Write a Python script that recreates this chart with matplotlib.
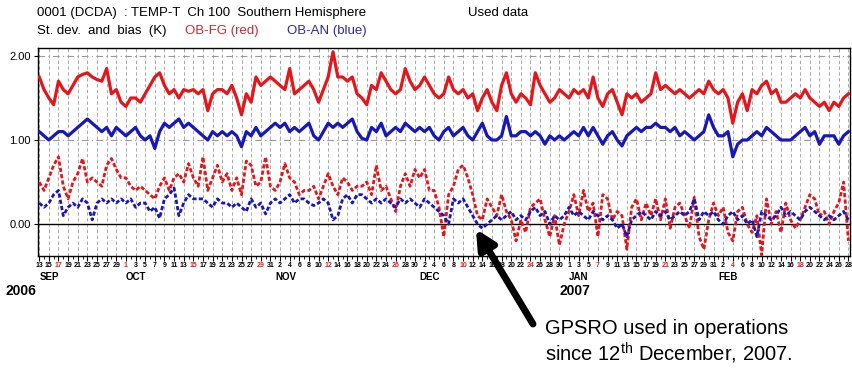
import pandas as pd
import matplotlib
matplotlib.use("Agg")
import matplotlib.pyplot as plt
from matplotlib.transforms import blended_transform_factory

plt.rcParams['font.family'] = ['Liberation Sans', 'DejaVu Sans']
plt.rcParams['mathtext.fontset'] = 'custom'
plt.rcParams['mathtext.rm'] = 'Liberation Sans'

# one value per day, 13 Sep 2006 .. 28 Feb 2007
dates = pd.date_range("2006-09-13", "2007-02-28", freq="D")

# st. dev. OB-FG (red, solid)
stdev_fg = [
    1.75, 1.6, 1.5, 1.42, 1.7, 1.6, 1.55, 1.65, 1.75, 1.78, 1.8, 1.75, 1.72, 1.7, 1.85, 1.55, 1.6, 1.45,
    1.4, 1.5, 1.5, 1.45, 1.55, 1.65, 1.75, 1.8, 1.65, 1.55, 1.6, 1.5, 1.6, 1.58, 1.6, 1.55,
    1.6, 1.35, 1.55, 1.6, 1.6, 1.55, 1.65, 1.5, 1.3, 1.55, 1.45, 1.75, 1.65, 1.7, 1.75,
    1.7, 1.65, 1.6, 1.85, 1.55, 1.6, 1.65, 1.7, 1.6, 1.45, 1.6, 1.75, 2.05, 1.75, 1.75, 1.7, 1.75, 1.55,
    1.5, 1.42, 1.65, 1.6, 1.8, 1.7, 1.6, 1.55, 1.6, 1.85, 1.7, 1.6,
    1.65, 1.75, 1.65, 1.55, 1.5, 1.55, 1.75, 1.6, 1.55, 1.6, 1.5, 1.55, 1.35, 1.5, 1.6, 1.45, 1.35,
    1.65, 1.8, 1.55, 1.45, 1.55, 1.5, 1.42, 1.8, 1.65, 1.55, 1.45, 1.5, 1.6, 1.55,
    1.5, 1.6, 1.55, 1.6, 1.5, 1.75, 1.5, 1.4, 1.55, 1.6, 1.45, 1.3, 1.55, 1.5, 1.55, 1.45,
    1.5, 1.55, 1.8, 1.6, 1.65, 1.6, 1.55, 1.6, 1.55, 1.5, 1.55, 1.6, 1.55, 1.7, 1.6,
    1.55, 1.6, 1.5, 1.2, 1.45, 1.55, 1.35, 1.6, 1.55, 1.65, 1.7, 1.55, 1.6, 1.45,
    1.45, 1.5, 1.55, 1.5, 1.6, 1.5, 1.45, 1.4, 1.45, 1.35, 1.45, 1.4, 1.5, 1.55,
]

# st. dev. OB-AN (blue, solid)
stdev_an = [
    1.1, 1.05, 1.0, 1.05, 1.1, 1.1, 1.05, 1.1, 1.15, 1.2, 1.25, 1.2, 1.15, 1.1, 1.15, 1.05, 1.15, 1.1,
    1.05, 1.1, 1.15, 1.05, 1.0, 1.05, 0.9, 1.1, 1.2, 1.15, 1.2, 1.25, 1.15, 1.2, 1.15, 1.1,
    1.05, 1.0, 1.1, 1.05, 1.1, 1.05, 1.1, 1.05, 0.92, 1.1, 1.05, 1.15, 1.05, 1.1, 1.15,
    1.2, 1.15, 1.2, 1.1, 1.15, 1.1, 1.15, 1.2, 1.05, 1.0, 1.1, 1.2, 1.15, 1.2, 1.15, 1.2, 1.25, 1.1,
    1.02, 1.0, 1.15, 1.1, 1.2, 1.05, 1.1, 1.15, 1.1, 1.2, 1.15, 1.1,
    1.15, 1.1, 1.15, 1.05, 1.0, 1.1, 1.15, 1.05, 1.1, 1.15, 1.05, 1.0, 1.1, 1.2, 1.05, 1.0, 1.0,
    1.05, 1.28, 1.05, 1.05, 1.1, 1.1, 1.05, 1.1, 1.05, 0.95, 1.05, 1.0, 1.05, 1.0,
    1.05, 1.1, 1.05, 1.15, 1.05, 1.15, 1.05, 0.95, 1.05, 1.1, 1.0, 0.93, 1.05, 1.1, 1.15, 1.1,
    1.15, 1.15, 1.2, 1.15, 1.15, 1.1, 1.15, 1.05, 1.1, 1.05, 1.0, 1.05, 1.1, 1.3, 1.15,
    1.05, 1.05, 1.1, 0.8, 0.95, 1.0, 1.0, 1.05, 1.1, 1.05, 1.15, 1.1, 1.05, 1.0,
    1.0, 1.0, 1.05, 1.1, 1.15, 1.05, 1.1, 0.95, 1.05, 1.05, 1.05, 0.95, 1.05, 1.1,
]

# bias OB-FG (red, dashed)
bias_fg = [
    0.5, 0.4, 0.55, 0.7, 0.8, 0.45, 0.3, 0.5, 0.6, 0.78, 0.5, 0.55, 0.5, 0.45, 0.7, 0.78, 0.65, 0.55,
    0.55, 0.45, 0.4, 0.45, 0.4, 0.35, 0.3, 0.45, 0.55, 0.4, 0.55, 0.6, 0.5, 0.72, 0.55, 0.45,
    0.8, 0.4, 0.55, 0.7, 0.5, 0.6, 0.4, 0.55, 0.35, 0.75, 0.7, 0.45, 0.5, 0.8, 0.45,
    0.4, 0.5, 0.72, 0.55, 0.5, 0.35, 0.4, 0.4, 0.45, 0.3, 0.45, 0.6, 0.45, 0.35, 0.55, 0.5, 0.4, 0.45,
    0.45, 0.5, 0.35, 0.7, 0.4, 0.45, 0.3, 0.15, 0.45, 0.6, 0.45, 0.65,
    0.55, 0.65, 0.4, 0.4, 0.2, -0.15, 0.35, 0.45, 0.65, 0.7, 0.55, 0.35, 0.1, 0.05, 0.3, 0.2, 0.1,
    0.35, 0.15, 0.05, -0.2, 0.05, -0.1, 0.2, 0.25, 0.3, 0.05, -0.15, 0.1, -0.25, 0.0,
    0.15, 0.35, 0.1, 0.4, 0.15, 0.25, -0.15, 0.35, 0.3, 0.05, 0.15, 0.1, -0.3, 0.2, 0.3, 0.05,
    0.25, 0.1, 0.3, 0.05, 0.3, -0.05, 0.2, 0.25, 0.1, -0.05, 0.32, -0.15, -0.3, 0.05, 0.25,
    0.1, 0.2, -0.1, -0.2, 0.15, 0.2, 0.0, -0.1, 0.1, -0.37, 0.3, 0.0, 0.15, -0.1,
    0.25, 0.05, -0.05, 0.05, 0.2, 0.35, 0.3, 0.1, 0.15, 0.0, 0.15, 0.25, 0.5, -0.2,
]

# bias OB-AN (blue, dashed)
bias_an = [
    0.25, 0.2, 0.25, 0.35, 0.4, 0.1, 0.2, 0.25, 0.2, 0.3, 0.25, 0.05, 0.25, 0.3, 0.25, 0.3, 0.25, 0.3,
    0.25, 0.3, 0.2, 0.25, 0.25, 0.15, 0.2, 0.07, 0.3, 0.35, 0.43, 0.1, 0.25, 0.35, 0.3, 0.3,
    0.3, 0.25, 0.2, 0.3, 0.25, 0.25, 0.2, 0.25, 0.2, 0.15, 0.3, 0.2, 0.25, 0.12, 0.25,
    0.3, 0.25, 0.3, 0.35, 0.25, 0.3, 0.3, 0.25, 0.22, 0.25, 0.3, 0.25, 0.05, 0.1, 0.3, 0.35, 0.25, 0.35,
    0.35, 0.3, 0.25, 0.3, 0.25, 0.3, 0.25, 0.2, 0.3, 0.25, 0.3, 0.25,
    0.2, 0.3, 0.25, 0.2, 0.15, 0.1, 0.0, 0.3, 0.25, 0.3, 0.2, 0.1, 0.0, -0.05, 0.0, 0.05, 0.1,
    0.05, 0.1, 0.15, 0.05, 0.1, 0.05, 0.15, 0.2, 0.1, 0.15, 0.0, 0.1, 0.05, 0.1,
    0.2, 0.1, 0.15, 0.1, 0.05, 0.15, 0.1, 0.05, 0.1, 0.05, -0.05, 0.0, -0.15, 0.05, 0.1, 0.15,
    0.1, 0.05, 0.15, 0.1, 0.15, 0.05, 0.1, 0.15, 0.1, 0.15, 0.3, 0.05, 0.15, 0.1, 0.15,
    0.05, 0.0, 0.1, 0.15, 0.05, 0.1, 0.0, 0.05, -0.15, 0.15, 0.1, 0.05, 0.1, 0.2,
    0.1, 0.15, 0.1, 0.05, 0.15, 0.2, 0.15, 0.1, 0.05, 0.1, 0.05, 0.1, 0.15, 0.05,
]

month_labels = ["SEP", "OCT", "NOV", "DEC", "JAN", "FEB"]
month_starts = ["2006-09-13", "2006-10-01", "2006-11-01", "2006-12-01", "2007-01-01", "2007-02-01"]
year_labels = ["2006", "2007"]
year_pos = ["2006-09-06", "2006-12-30"]
red_tick_ref = pd.Timestamp("2006-09-17")  # every second Sunday in red
gpsro_date = pd.Timestamp("2006-12-12 16:00")

RED = "#e4161c"
BLUE = "#1818b8"

fig = plt.figure(figsize=(8.53, 3.70), dpi=100, facecolor="white")
ax = fig.add_axes([38 / 853, 1 - 256 / 370, 812 / 853, 208 / 370])

ax.plot(dates, stdev_fg, color=RED, lw=2.3, zorder=3)
ax.plot(dates, stdev_an, color=BLUE, lw=2.3, zorder=3)
ax.plot(dates, bias_fg, color=RED, lw=2.0, ls=(0, (1.5, 0.8)), zorder=3)
ax.plot(dates, bias_an, color=BLUE, lw=2.0, ls=(0, (1.5, 0.8)), zorder=4)

ax.set_xlim(dates[0] - pd.Timedelta(hours=6), dates[-1] + pd.Timedelta(hours=8))
ax.set_ylim(-0.38, 2.095)

# vertical grid every two days, horizontal at 1 and 2, zero line
tick_dates = dates[::2]
for d in tick_dates:
    ax.axvline(d, color="#9a9a9a", lw=0.6, ls=(0, (4, 3)), zorder=1)
for v in [1.0, 2.0]:
    ax.axhline(v, color="#9a9a9a", lw=0.8, ls=(0, (6, 3, 1, 3)), zorder=1)
ax.axhline(0.0, color="black", lw=1.0, zorder=2)

ax.set_yticks([0.0, 1.0, 2.0])
ax.set_yticklabels(["0.00", "1.00", "2.00"], fontsize=8)
ax.tick_params(axis="y", length=3, width=0.8, pad=2)

ax.set_xticks(tick_dates)
ax.set_xticklabels([str(d.day) for d in tick_dates], fontsize=5.0, fontweight="bold")
ax.set_xticks(dates, minor=True)
ax.tick_params(axis="x", which="major", length=3.5, width=0.8, pad=1)
ax.tick_params(axis="x", which="minor", length=2, width=0.6)
for d, lab in zip(tick_dates, ax.get_xticklabels()):
    if (d - red_tick_ref).days % 14 == 0:
        lab.set_color("#e02020")

for sp in ax.spines.values():
    sp.set_linewidth(1.0)

trans = blended_transform_factory(ax.transData, fig.transFigure)
for lab, start in zip(month_labels, month_starts):
    ax.text(pd.Timestamp(start), 1 - 277 / 370, lab, transform=trans, ha="left", va="center",
            fontsize=7, fontweight="bold")
for lab, pos in zip(year_labels, year_pos):
    ax.text(pd.Timestamp(pos), 1 - 291 / 370, lab, transform=trans, ha="left", va="center",
            fontsize=10, fontweight="bold")

# header
fig.text(37 / 853, 1 - 13 / 370, "0001 (DCDA)  : TEMP-T  Ch 100  Southern Hemisphere",
         fontsize=9.5, va="center")
fig.text(468 / 853, 1 - 13 / 370, "Used data", fontsize=9.5, va="center")
fig.text(37 / 853, 1 - 31 / 370, "St. dev.  and  bias  (K)", fontsize=9.5, va="center")
fig.text(185 / 853, 1 - 31 / 370, "OB-FG (red)", fontsize=9.5, va="center", color="#d02828")
fig.text(287 / 853, 1 - 31 / 370, "OB-AN (blue)", fontsize=9.5, va="center", color="#2a2aa8")

# GPSRO annotation
ax.annotate("", xy=(gpsro_date, -0.06), xycoords="data",
            xytext=(533 / 853, 1 - 324 / 370), textcoords="figure fraction",
            arrowprops=dict(arrowstyle="-|>", color="black", lw=5, mutation_scale=28,
                            shrinkA=0, shrinkB=0),
            annotation_clip=False)
fig.text(545 / 853, 1 - 328 / 370, "GPSRO used in operations", fontsize=14.5, va="center")
fig.text(545 / 853, 1 - 353 / 370, r"since 12$^{\mathrm{th}}$ December, 2007.", fontsize=14.5, va="center")

fig.savefig("out.png", dpi=100, facecolor="white")
